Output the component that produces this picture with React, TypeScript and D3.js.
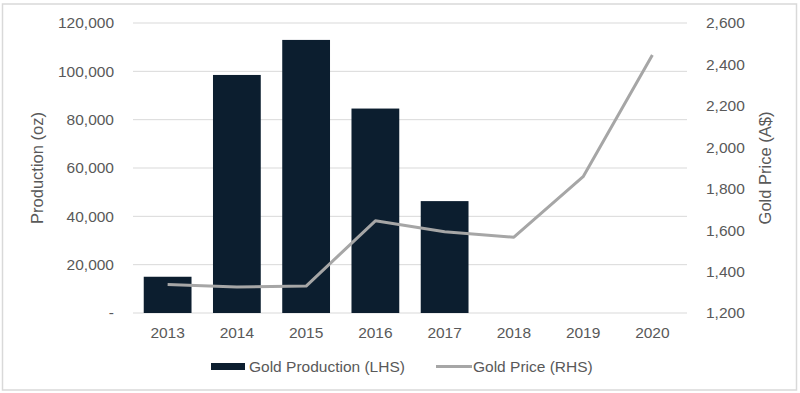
import * as d3 from "d3";

const years = ["2013", "2014", "2015", "2016", "2017", "2018", "2019", "2020"];
const productionYears = ["2013", "2014", "2015", "2016", "2017"];
const production = [15000, 98500, 113000, 84600, 46300];
const price = [1338, 1326, 1330, 1645, 1592, 1566, 1858, 2446];
const leftTicks = [0, 20000, 40000, 60000, 80000, 100000, 120000];
const rightTicks = [1200, 1400, 1600, 1800, 2000, 2200, 2400, 2600];

const W = 800;
const H = 393;
const margin = { left: 133, right: 113, top: 23, bottom: 80 };
const font = "'Liberation Sans', Arial, sans-serif";
const textColor = "#595959";
const tickSize = 15.5;

export default function App() {
  const x = d3
    .scaleBand()
    .domain(years)
    .range([margin.left, W - margin.right])
    .paddingInner(0.31)
    .paddingOuter(0.155);
  const yL = d3.scaleLinear().domain([0, 120000]).range([H - margin.bottom, margin.top]);
  const yR = d3.scaleLinear().domain([1200, 2600]).range([H - margin.bottom, margin.top]);
  const fmt = d3.format(",");
  const cx = (yr: string) => (x(yr) ?? 0) + x.bandwidth() / 2;

  const line = d3
    .line<number>()
    .x((_, i) => cx(years[i]))
    .y((d) => yR(d));

  return (
    <svg
      width={W}
      height={H}
      style={{ position: "absolute", left: 0, top: 0, background: "#fff" }}
      fontFamily={font}
    >
      <rect x={2.5} y={4} width={794} height={386} fill="#fff" stroke="#d9d9d9" strokeWidth={1.5} />

      {/* gridlines */}
      {leftTicks.map((t) => (
        <line
          key={t}
          x1={margin.left}
          x2={W - margin.right}
          y1={yL(t)}
          y2={yL(t)}
          stroke="#d9d9d9"
          strokeWidth={1}
        />
      ))}

      {/* bars */}
      {productionYears.map((yr, i) => (
        <rect
          key={yr}
          x={x(yr)}
          y={yL(production[i])}
          width={x.bandwidth()}
          height={yL(0) - yL(production[i])}
          fill="#0c1e2f"
        />
      ))}

      {/* price line */}
      <path d={line(price) ?? ""} fill="none" stroke="#a6a6a6" strokeWidth={3} strokeLinejoin="round" />

      {/* left axis */}
      {leftTicks.map((t) => (
        <text
          key={t}
          x={114}
          y={yL(t)}
          dy="0.35em"
          textAnchor="end"
          fontSize={tickSize}
          fill={textColor}
        >
          {t === 0 ? "-" : fmt(t)}
        </text>
      ))}

      {/* right axis */}
      {rightTicks.map((t) => (
        <text key={t} x={706} y={yR(t)} dy="0.35em" textAnchor="start" fontSize={tickSize} fill={textColor}>
          {fmt(t)}
        </text>
      ))}

      {/* x axis */}
      {years.map((yr) => (
        <text key={yr} x={cx(yr)} y={338} textAnchor="middle" fontSize={tickSize} fill={textColor}>
          {yr}
        </text>
      ))}

      {/* axis titles */}
      <text
        transform={`translate(43,${(yL(0) + yL(120000)) / 2}) rotate(-90)`}
        textAnchor="middle"
        fontSize={16.5}
        fill={textColor}
      >
        Production (oz)
      </text>
      <text
        transform={`translate(771,${(yL(0) + yL(120000)) / 2}) rotate(-90)`}
        textAnchor="middle"
        fontSize={16.5}
        fill={textColor}
      >
        Gold Price (A$)
      </text>

      {/* legend */}
      <rect x={211} y={363} width={34} height={7} fill="#0c1e2f" />
      <text x={249} y={372} fontSize={tickSize} fill={textColor}>
        Gold Production (LHS)
      </text>
      <line x1={436} x2={472} y1={366.5} y2={366.5} stroke="#a6a6a6" strokeWidth={3} />
      <text x={473} y={372} fontSize={tickSize} fill={textColor}>
        Gold Price (RHS)
      </text>
    </svg>
  );
}
